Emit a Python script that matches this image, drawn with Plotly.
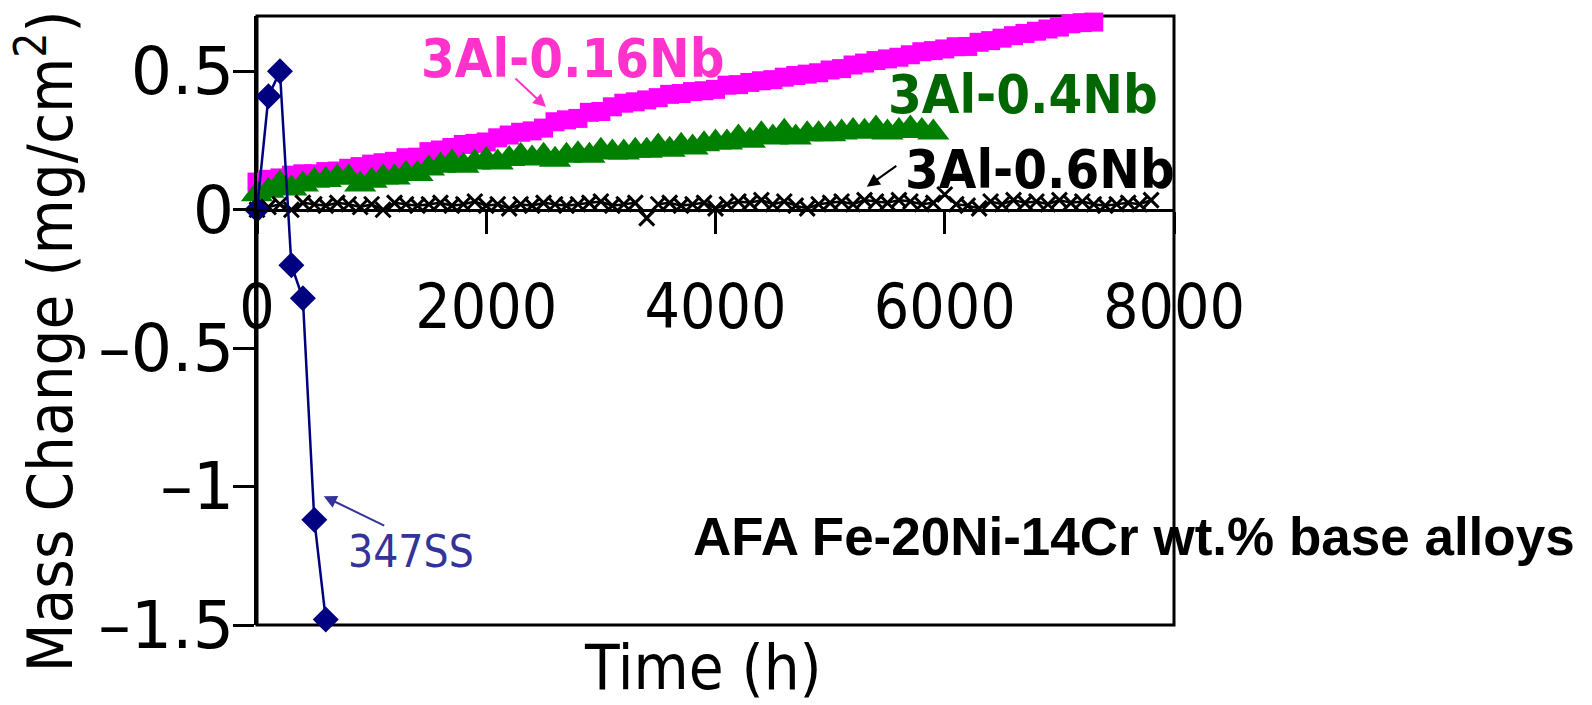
import plotly.graph_objects as go

# ---------------- data ----------------
t_347 = [0, 100, 200, 300, 400, 500, 600]
m_347 = [0.0, 0.41, 0.50, -0.20, -0.32, -1.12, -1.48]

t_016 = list(range(0, 7400, 100))
m_016 = [0.10, 0.11, 0.115, 0.125, 0.13, 0.13, 0.138, 0.14, 0.15, 0.156,
         0.165, 0.17, 0.175, 0.188, 0.19, 0.21, 0.216, 0.225, 0.236, 0.24,
         0.245, 0.26, 0.27, 0.28, 0.285, 0.295, 0.318, 0.325, 0.33, 0.352,
         0.355, 0.372, 0.385, 0.39, 0.397, 0.405, 0.417, 0.42, 0.427, 0.43,
         0.435, 0.45, 0.452, 0.46, 0.466, 0.47, 0.479, 0.485, 0.49, 0.495,
         0.505, 0.51, 0.523, 0.53, 0.539, 0.545, 0.551, 0.56, 0.571, 0.575,
         0.581, 0.589, 0.59, 0.605, 0.611, 0.62, 0.629, 0.637, 0.645, 0.653,
         0.66, 0.672, 0.676, 0.678]

t_04 = list(range(0, 6000, 100))
m_04 = [0.056, 0.069, 0.095, 0.077, 0.091, 0.105, 0.108, 0.117, 0.117, 0.091,
        0.105, 0.117, 0.117, 0.129, 0.129, 0.149, 0.159, 0.171, 0.159, 0.171,
        0.180, 0.171, 0.183, 0.195, 0.185, 0.195, 0.181, 0.195, 0.201, 0.195,
        0.213, 0.207, 0.207, 0.213, 0.213, 0.229, 0.217, 0.231, 0.225, 0.237,
        0.243, 0.243, 0.261, 0.249, 0.273, 0.261, 0.282, 0.261, 0.273, 0.273,
        0.273, 0.279, 0.285, 0.282, 0.294, 0.279, 0.285, 0.294, 0.285, 0.279]

t_06 = list(range(0, 7900, 100))
m_06 = [0.0, 0.01, 0.02, 0.0, 0.025, 0.02, 0.015, 0.025, 0.02, 0.01,
        0.02, 0.0, 0.025, 0.02, 0.015, 0.02, 0.025, 0.015, 0.02, 0.03,
        0.015, 0.02, 0.005, 0.02, 0.015, 0.025, 0.02, 0.015, 0.02, 0.025,
        0.03, 0.015, 0.02, 0.025, -0.03, 0.02, 0.025, 0.015, 0.02, 0.025,
        0.005, 0.02, 0.03, 0.025, 0.035, 0.02, 0.03, 0.015, 0.005, 0.02,
        0.025, 0.03, 0.02, 0.035, 0.03, 0.025, 0.035, 0.03, 0.02, 0.025,
        0.055, 0.02, 0.015, 0.005, 0.03, 0.02, 0.035, 0.025, 0.03, 0.02,
        0.035, 0.025, 0.03, 0.02, 0.015, 0.02, 0.025, 0.02, 0.035]

x_tickvals = [0, 2000, 4000, 6000, 8000]
x_ticktext = ["0", "2000", "4000", "6000", "8000"]
y_tickvals = [-1.5, -1.0, -0.5, 0.0, 0.5]
y_ticktext = ["\u20131.5", "\u20131", "\u20130.5", "0", "0.5"]
x_range = [0, 8000]
y_range = [-1.5, 0.7]

FONT = "DejaVu Sans Condensed, DejaVu Sans, sans-serif"
FONT_Y = "DejaVu Sans, sans-serif"

fig = go.Figure()
fig.add_trace(go.Scatter(x=t_016, y=m_016, mode="lines+markers", name="3Al-0.16Nb",
                         line=dict(color="#FF00FF", width=2),
                         marker=dict(symbol="square", size=19, color="#FF00FF"),
                         cliponaxis=False))
fig.add_trace(go.Scatter(x=t_04, y=m_04, mode="lines+markers", name="3Al-0.4Nb",
                         line=dict(color="#008000", width=2),
                         marker=dict(symbol="triangle-up", size=28, color="#008000"),
                         cliponaxis=False))
fig.add_trace(go.Scatter(x=t_06, y=m_06, mode="lines+markers", name="3Al-0.6Nb",
                         line=dict(color="black", width=2.5),
                         marker=dict(symbol="x-thin", size=15, color="black",
                                     line=dict(color="black", width=3)),
                         cliponaxis=False))
fig.add_trace(go.Scatter(x=t_347, y=m_347, mode="lines+markers", name="347SS",
                         line=dict(color="#000080", width=2.5),
                         marker=dict(symbol="diamond", size=20, color="#000080"),
                         cliponaxis=False))

xpos = (0 - y_range[0]) / (y_range[1] - y_range[0])

fig.update_layout(
    width=1592, height=705,
    margin=dict(l=257, r=418, t=16, b=80),
    paper_bgcolor="white", plot_bgcolor="white",
    showlegend=False,
    font=dict(family=FONT, color="black"),
    xaxis=dict(range=x_range, tickvals=x_tickvals, ticktext=x_ticktext,
               anchor="free", position=xpos,
               ticks="outside", ticklen=22, tickwidth=3, tickcolor="black",
               showline=True, linewidth=3, linecolor="black",
               showgrid=False, zeroline=False,
               tickfont=dict(size=62, family=FONT), ticklabelstandoff=20),
    yaxis=dict(range=y_range, tickvals=y_tickvals, ticktext=y_ticktext,
               ticks="outside", ticklen=21, tickwidth=3, tickcolor="black",
               showline=True, linewidth=3, linecolor="black",
               showgrid=False, zeroline=False,
               tickfont=dict(size=65, family=FONT_Y), ticklabelstandoff=-14),
)

fig.add_shape(type="rect", xref="paper", yref="paper", x0=0, x1=1, y0=0, y1=1,
              line=dict(color="black", width=3), layer="below")

# labels
fig.add_annotation(x=2757, y=0.548, xref="x", yref="y", text="<b>3Al-0.16Nb</b>",
                   xanchor="center", yanchor="middle",
                   showarrow=False, font=dict(size=54, color="#FF33CC", family=FONT))
fig.add_annotation(x=6683, y=0.418, xref="x", yref="y", text="<b>3Al-0.4Nb</b>",
                   xanchor="center", yanchor="middle",
                   showarrow=False, font=dict(size=54, color="#006600", family=FONT))
fig.add_annotation(x=6830, y=0.146, xref="x", yref="y", text="<b>3Al-0.6Nb</b>",
                   xanchor="center", yanchor="middle",
                   showarrow=False, font=dict(size=54, color="black", family=FONT))
fig.add_annotation(x=776, y=-1.235, xref="x", yref="y", text="347SS",
                   xanchor="left", yanchor="middle",
                   showarrow=False, font=dict(size=44, color="#333399", family=FONT))
fig.add_annotation(x=1.4395, y=0.1445, xref="paper", yref="paper",
                   xanchor="right", yanchor="middle",
                   text="<b>AFA Fe-20Ni-14Cr wt.% base alloys</b>", showarrow=False,
                   font=dict(size=53, color="black", family="Liberation Sans, Arial"))
fig.add_annotation(x=0.486, y=-0.0706, xref="paper", yref="paper", text="Time (h)",
                   xanchor="center", yanchor="middle",
                   showarrow=False, font=dict(size=63, color="black", family=FONT))
fig.add_annotation(x=-0.230, y=0.466, xref="paper", yref="paper",
                   xanchor="center", yanchor="middle",
                   text="Mass Change (mg/cm<sup>2</sup>)", textangle=-90,
                   showarrow=False, font=dict(size=63, color="black", family=FONT))

# arrows
fig.add_annotation(x=2521, y=0.371, xref="x", yref="y", text="", showarrow=True,
                   ax=-32, ay=-30, arrowhead=2, arrowsize=1.3, arrowwidth=2,
                   arrowcolor="#FF33CC")
fig.add_annotation(x=5320, y=0.083, xref="x", yref="y", text="", showarrow=True,
                   ax=31, ay=-22, arrowhead=2, arrowsize=1.3, arrowwidth=2,
                   arrowcolor="black")
fig.add_annotation(x=582, y=-1.035, xref="x", yref="y", text="", showarrow=True,
                   ax=62, ay=30, arrowhead=2, arrowsize=1.3, arrowwidth=2,
                   arrowcolor="#333399")

fig.write_html("out.html")
